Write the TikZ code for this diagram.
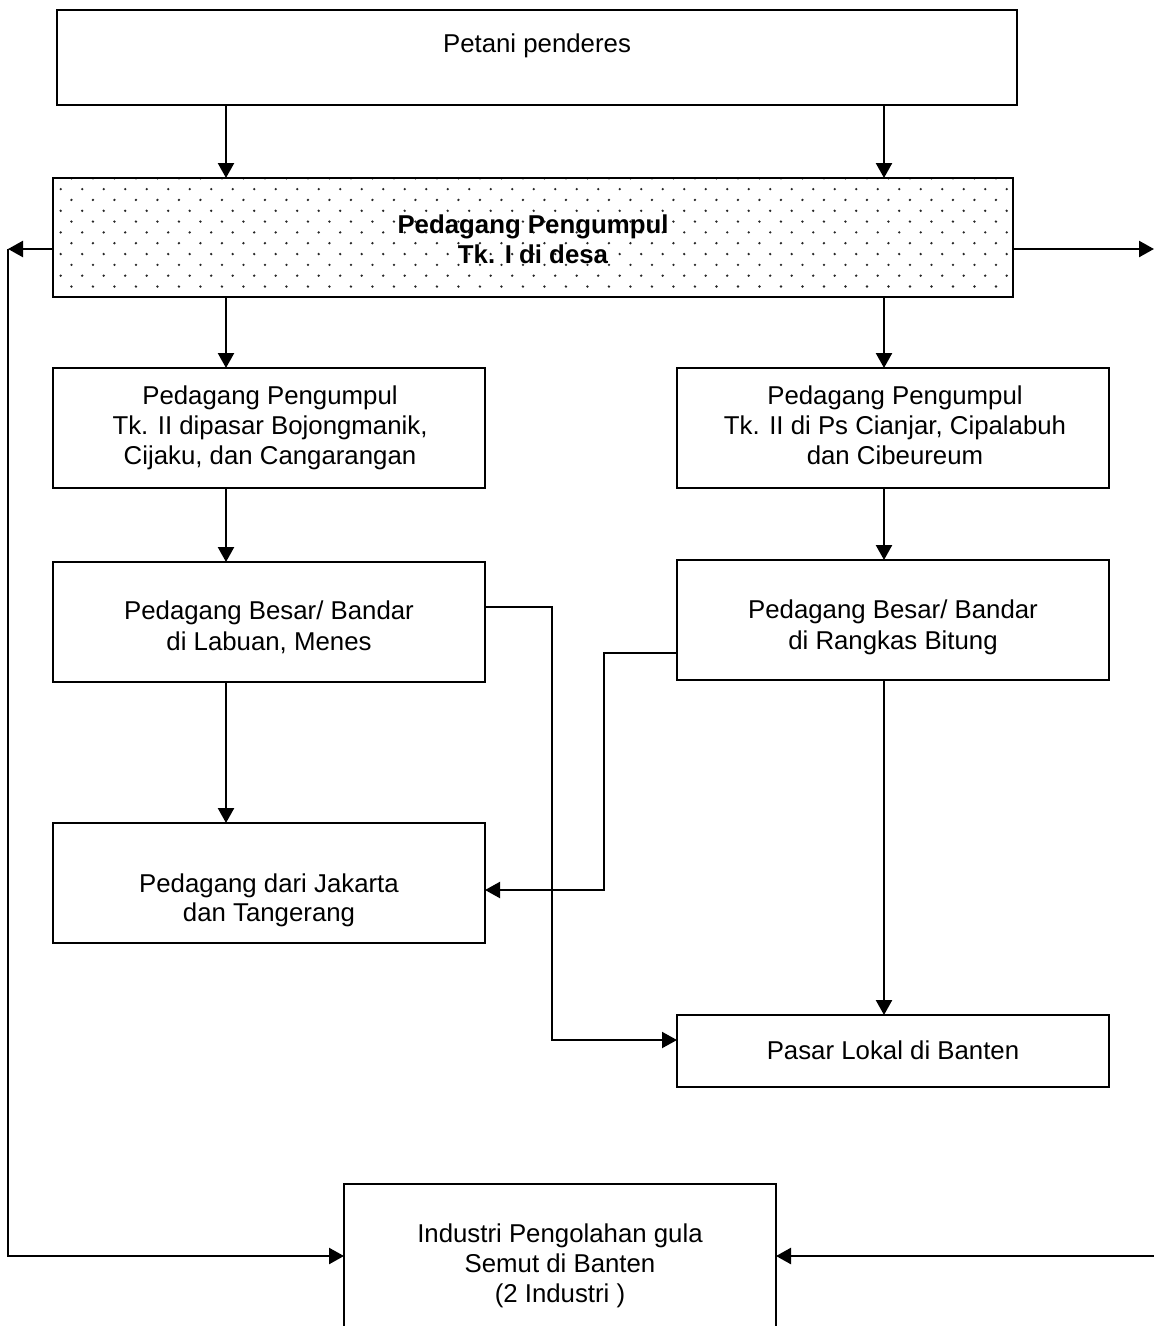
\documentclass[tikz,border=0pt]{standalone}
\usepackage{fontspec}
\setmainfont{Liberation Sans}
\usetikzlibrary{arrows.meta}
\begin{document}
\begin{tikzpicture}[x=1pt,y=-1pt,
  box/.style={draw=black,line width=1.8pt,rectangle,inner sep=0pt,outer sep=0pt,fill=white},
  txt/.style={anchor=base,inner sep=0pt,font=\fontsize{25.8}{30}\selectfont},
  btxt/.style={txt,font=\fontsize{25.8}{30}\selectfont\bfseries},
  arr/.style={line width=2.4pt,-{Triangle[length=15pt,width=16pt]}},
  thin arr/.style={line width=2pt,-{Triangle[length=15pt,width=16pt]}},
  dotty/.style={fill=black!85}]
\clip (0,0) rectangle (1154,1326);
\fill[white] (0,0) rectangle (1154,1326);
% guide coordinates
\coordinate (xl) at (226,0);
\coordinate (xr) at (884,0);
\coordinate (ys) at (0,249);
\coordinate (ya) at (0,607);
\coordinate (xa) at (552,0);
\coordinate (yb) at (0,1040);
\coordinate (yc) at (0,653);
\coordinate (xc) at (604,0);
\coordinate (yd) at (0,890);
\coordinate (yi) at (0,1256);
\coordinate (lft) at (8,249);
\coordinate (lfb) at (8,1256);
\coordinate (rgt) at (1154,249);
\coordinate (rgb) at (1154,1256);
% boxes
\node[box,minimum width=960pt,minimum height=95pt] (petani) at (537,57.5) {};
\node[box,minimum width=960pt,minimum height=119pt] (pp) at (533,237.5) {};
\begin{scope}
  \clip (53,178) rectangle (1013,297);
  \foreach \k in {0,...,11}{
    \pgfmathsetmacro{\yy}{178.3+10.82*\k}
    \pgfmathsetmacro{\xs}{isodd(\k) ? 60.7 : 71.45}
    \foreach \m in {-1,...,45}{
      \fill[dotty] (\xs+21.5*\m,\yy) circle (1.3);
    }
  }
\end{scope}
\draw[line width=1.8pt] (pp.north west) rectangle (pp.south east);
\node[box,minimum width=432pt,minimum height=120pt] (t2l) at (269,428) {};
\node[box,minimum width=432pt,minimum height=120pt] (t2r) at (893,428) {};
\node[box,minimum width=432pt,minimum height=120pt] (bl) at (269,622) {};
\node[box,minimum width=432pt,minimum height=120pt] (br) at (893,620) {};
\node[box,minimum width=432pt,minimum height=120pt] (jk) at (269,883) {};
\node[box,minimum width=432pt,minimum height=72pt] (pl) at (893,1051) {};
\node[box,minimum width=432pt,minimum height=170pt] (ind) at (560,1269) {};
% texts
\node[txt] (petani-t) at (537,52) {Petani penderes};
\node[btxt] (pp-t1) at (533,233) {Pedagang Pengumpul};
\node[btxt] (pp-t2) at (533,263) {Tk. I di desa};
\node[txt] (t2l-t1) at (270,404) {Pedagang Pengumpul};
\node[txt] (t2l-t2) at (270,434) {Tk. II dipasar Bojongmanik,};
\node[txt] (t2l-t3) at (270,464) {Cijaku, dan Cangarangan};
\node[txt] (t2r-t1) at (895,404) {Pedagang Pengumpul};
\node[txt] (t2r-t2) at (895,434) {Tk. II di Ps Cianjar, Cipalabuh};
\node[txt] (t2r-t3) at (895,464) {dan Cibeureum};
\node[txt] (bl-t1) at (269,619) {Pedagang Besar/ Bandar};
\node[txt] (bl-t2) at (269,650) {di Labuan, Menes};
\node[txt] (br-t1) at (893,618) {Pedagang Besar/ Bandar};
\node[txt] (br-t2) at (893,649) {di Rangkas Bitung};
\node[txt] (jk-t1) at (269,892) {Pedagang dari Jakarta};
\node[txt] (jk-t2) at (269,921) {dan Tangerang};
\node[txt] (pl-t) at (893,1059) {Pasar Lokal di Banten};
\node[txt] (ind-t1) at (560,1242) {Industri Pengolahan gula};
\node[txt] (ind-t2) at (560,1272) {Semut di Banten};
\node[txt] (ind-t3) at (560,1302) {(2 Industri )};
% connectors
\draw[arr] (petani.south -| xl) -- (pp.north -| xl);
\draw[arr] (petani.south -| xr) -- (pp.north -| xr);
\draw[arr] (pp.south -| xl) -- (t2l.north -| xl);
\draw[arr] (pp.south -| xr) -- (t2r.north -| xr);
\draw[arr] (t2l.south -| xl) -- (bl.north -| xl);
\draw[arr] (t2r.south -| xr) -- (br.north -| xr);
\draw[arr] (bl.south -| xl) -- (jk.north -| xl);
\draw[arr] (br.south -| xr) -- (pl.north -| xr);
\draw[thin arr] (bl.east |- ya) -| (xa |- yb) -- (pl.west |- yb);
\draw[thin arr] (br.west |- yc) -| (xc |- yd) -- (jk.east |- yd);
\draw[arr] (pp.west |- ys) -- (lft);
\draw[arr] (lft) -- (lfb) -- (ind.west |- yi);
\draw[arr] (pp.east |- ys) -- (rgt);
\draw[arr] (rgb) -- (ind.east |- yi);
\end{tikzpicture}
\end{document}
